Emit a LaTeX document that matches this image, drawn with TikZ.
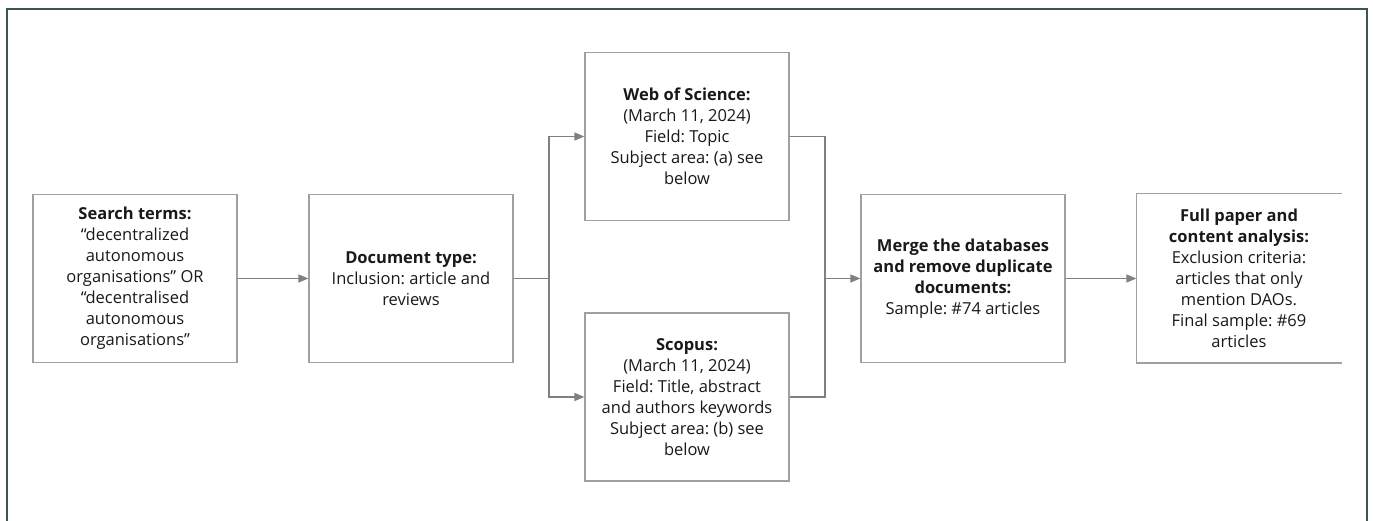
\documentclass[tikz,border=0pt]{standalone}
\usepackage{fontspec}
\setmainfont{Open Sans}
\usetikzlibrary{arrows,positioning}
\definecolor{framegreen}{RGB}{58,88,78}
\definecolor{boxgray}{RGB}{160,160,160}
\definecolor{linegray}{RGB}{128,128,128}
\definecolor{txt}{RGB}{25,25,25}
\frenchspacing

\begin{document}
\begin{tikzpicture}[x=1pt,y=1pt,font=\fontsize{16.5}{21}\selectfont,
  stage/.style={draw=boxgray,line width=1.4pt,minimum width=204pt,minimum height=168pt,align=center,text=txt,inner sep=0pt},
  link/.style={linegray,line width=1.3pt},
  arr/.style={link,-triangle 45}]
\useasboundingbox (0,0) rectangle (1373,521);
%frame
\draw[framegreen,line width=2pt] (7,-5) -- (7,512) -- (1367,512) -- (1367,-5);
%stages
\node[stage] (terms) at (135,242.5) {\textbf{Search terms:}\\“decentralized\\autonomous\\organisations” OR\\“decentralised\\autonomous\\organisations”};
\node[stage] (doctype) at (411,242.5) {\textbf{Document type:}\\Inclusion: article and\\reviews};
\node[stage] (wos) at (687,384.5) {\textbf{Web of Science:}\\(March 11, 2024)\\Field: Topic\\Subject area: (a) see\\below};
\node[stage] (scopus) at (687,124) {\textbf{Scopus:}\\(March 11, 2024)\\Field: Title, abstract\\and authors keywords\\Subject area: (b) see\\below};
\node[stage] (merge) at (963,242.5) {\textbf{Merge the databases}\\\textbf{and remove duplicate}\\\textbf{documents:}\\Sample: \#74 articles};
\node[stage,draw=none] (final) at (1239,242.5) {\textbf{Full paper and}\\\textbf{content analysis:}\\Exclusion criteria:\\articles that only\\mention DAOs.\\Final sample: \#69\\articles};
\draw[boxgray,line width=1.4pt] (final.north east) -- (final.north west) -- (final.south west) -- (final.south east);
%connectors
\coordinate (split) at (549,242.5);
\coordinate (join) at (825,242.5);
\draw[arr] (terms) -- (doctype);
\draw[link] (doctype) -- (split);
\draw[arr] (split) |- (wos);
\draw[arr] (split) |- (scopus);
\draw[link] (wos) -| (join);
\draw[link] (scopus) -| (join);
\draw[arr] (join) -- (merge);
\draw[arr] (merge) -- (final);
\end{tikzpicture}
\end{document}
